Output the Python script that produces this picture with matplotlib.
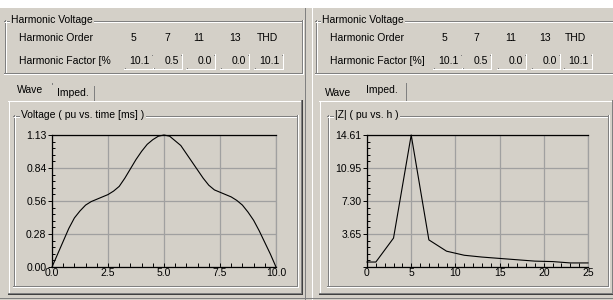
import numpy as np
import matplotlib.pyplot as plt

plt.rcParams['font.family'] = ['Liberation Sans', 'DejaVu Sans']

W, H = 613, 300
BG = '#d4d0c8'
SHADOW = '#808080'
HILITE = '#ffffff'
GRID = '#a0a0a0'
FS = 7.5

# harmonic table
harm_orders = ['5', '7', '11', '13', 'THD']
harm_factor = ['10.1', '0.5', '0.0', '0.0', '10.1']

# wave tab: voltage vs time
time_ms = [0.0, 0.25, 0.5, 0.75, 1.0, 1.25, 1.5, 1.75, 2.0, 2.25,
           2.5, 2.75, 3.0, 3.25, 3.5, 3.75, 4.0, 4.25, 4.5, 4.75,
           5.0, 5.25, 5.5, 5.75, 6.0, 6.25, 6.5, 6.75, 7.0, 7.25,
           7.5, 7.75, 8.0, 8.25, 8.5, 8.75, 9.0, 9.25, 9.5, 9.75, 10.0]
volt_pu = [0.00, 0.11, 0.22, 0.33, 0.42, 0.48, 0.53, 0.56, 0.58, 0.60,
           0.62, 0.65, 0.69, 0.76, 0.84, 0.92, 0.99, 1.05, 1.09, 1.12,
           1.13, 1.12, 1.08, 1.04, 0.97, 0.90, 0.83, 0.76, 0.70, 0.66,
           0.64, 0.62, 0.60, 0.57, 0.53, 0.47, 0.40, 0.31, 0.21, 0.11, 0.00]
volt_yticklabels = ['0.00', '0.28', '0.56', '0.84', '1.13']
volt_xticklabels = ['0.0', '2.5', '5.0', '7.5', '10.0']

# imped tab: |Z| vs harmonic order
harm_h = [0, 1, 3, 5, 7, 9, 11, 13, 15, 17, 19, 21, 23, 25]
imped_pu = [0.55, 0.55, 3.2, 14.61, 3.0, 1.75, 1.3, 1.1, 0.95, 0.8, 0.65, 0.6, 0.45, 0.45]
imped_yticklabels = ['', '3.65', '7.30', '10.95', '14.61']
imped_xticklabels = ['0', '5', '10', '15', '20', '25']

fig = plt.figure(figsize=(W / 100, H / 100), dpi=100, facecolor=BG)
bg = fig.add_axes([0, 0, 1, 1])
bg.set_xlim(0, W)
bg.set_ylim(H, 0)
bg.axis('off')


def hl(x0, x1, y, c):
    bg.plot([x0, x1 + 1], [y + .5, y + .5], color=c, lw=0.72,
            antialiased=False, solid_capstyle='butt', zorder=2)


def vl(x, y0, y1, c):
    bg.plot([x + .5, x + .5], [y0, y1 + 1], color=c, lw=0.72,
            antialiased=False, solid_capstyle='butt', zorder=2)


def etched(x0, y0, x1, y1):
    hl(x0, x1, y0, SHADOW); vl(x0, y0, y1, SHADOW)
    hl(x0, x1, y1, SHADOW); vl(x1, y0, y1, SHADOW)
    hl(x0 + 1, x1 - 1, y0 + 1, HILITE); vl(x0 + 1, y0 + 1, y1 - 1, HILITE)
    hl(x0, x1 + 1, y1 + 1, HILITE); vl(x1 + 1, y0, y1 + 1, HILITE)


def sunken(x0, y0, x1, y1):
    hl(x0, x1, y0, SHADOW); vl(x0, y0, y1, SHADOW)
    hl(x0, x1, y1, HILITE); vl(x1, y0, y1, HILITE)


def label(x, y, s, ha='left', cover=False):
    kw = {}
    if cover:
        kw['bbox'] = dict(facecolor=BG, edgecolor='none', pad=1)
    bg.text(x, y, s, ha=ha, va='center', fontsize=FS, color='black', zorder=5, **kw)


# white strip on top, half separator, window bottom
bg.fill_between([0, W], 0, 8, color='white', lw=0, zorder=1)
vl(304, 8, 299, SHADOW)
vl(311, 8, 299, HILITE)
hl(0, W - 1, 297, SHADOW)


def draw_half(ox, factor_text, head_x, box_x, active, tab_boxes, title, gb_x):
    # harmonic voltage group
    etched(ox + 4, 20, ox + 301, 72)
    label(ox + 11, 20, 'Harmonic Voltage', cover=True)
    label(ox + 19, 38, 'Harmonic Order')
    label(ox + 19, 61, factor_text)
    for hx, bx, name, val in zip(head_x, box_x, harm_orders, harm_factor):
        label(hx, 38, name, ha='center')
        bg.fill_between([bx, bx + 28], 54, 68, color=BG, lw=0, zorder=3)
        sunken(bx, 54, bx + 28, 68)
        label(bx + 26, 61, val, ha='right')

    # tab page
    x0, x1 = ox + 8, ox + 300
    hl(x0, x1, 100, HILITE)
    vl(x0, 100, 292, HILITE)
    hl(x0, x1, 292, SHADOW)
    vl(x1, 100, 292, SHADOW)
    hl(x0, x1 + 1, 293, '#404040')
    vl(x1 + 1, 100, 293, '#404040')
    for i, (tx0, tx1, name) in enumerate(tab_boxes):
        top = 82 if i == active else 85
        bg.fill_between([tx0, tx1 + 1], top, 101, color=BG, lw=0, zorder=3)
        hl(tx0 + 1, tx1 - 1, top, HILITE)
        vl(tx0, top + 1, 100, HILITE)
        vl(tx1, top + 1, 100 if i != active else 99, SHADOW)
        if i != active:
            hl(tx0, tx1, 100, HILITE)
        bg.text((tx0 + tx1 + 1) / 2, top + 8, name, ha='center', va='center',
                fontsize=FS, color='black', zorder=5)

    # chart group box
    etched(gb_x, 115, ox + 296, 285)
    label(gb_x + 8, 115, title, cover=True)


draw_half(0, 'Harmonic Factor [%', [133, 167, 199, 235, 267],
          [124, 153, 186, 220, 254], 0,
          [(8, 51, 'Wave'), (52, 93, 'Imped.')],
          'Voltage ( pu vs. time [ms] )', 13)
draw_half(311, 'Harmonic Factor [%]', [444, 476, 511, 545, 575],
          [433, 462, 497, 531, 563], 1,
          [(319, 357, 'Wave'), (358, 405, 'Imped.')],
          '|Z| ( pu vs. h )', 327)


def chart(rect, x, y, xmax, xstep, ymax, xlabels, ylabels):
    ax = fig.add_axes([rect[0] / W, 1 - rect[3] / H,
                       (rect[2] - rect[0]) / W, (rect[3] - rect[1]) / H])
    ax.set_facecolor(BG)
    ax.plot(x, y, color='black', lw=0.8, clip_on=False, zorder=3)
    ax.set_xlim(0, xmax)
    ax.set_ylim(0, ymax)
    ax.set_xticks(np.arange(0, xmax + 1e-9, xstep))
    ax.set_xticks(np.arange(0, xmax + 1e-9, xstep / 5), minor=True)
    ax.set_xticklabels(xlabels)
    ax.set_yticks(np.linspace(0, ymax, 5))
    ax.set_yticks(np.linspace(0, ymax, 21), minor=True)
    ax.set_yticklabels(ylabels)
    ax.grid(True, which='major', color=GRID, lw=0.9)
    for s in ['top', 'left', 'bottom']:
        ax.spines[s].set_color('black')
        ax.spines[s].set_linewidth(0.9)
    ax.spines['right'].set_color(GRID)
    ax.spines['right'].set_linewidth(0.9)
    ax.tick_params(axis='x', which='both', direction='in', length=3, width=0.7,
                   pad=1, labelsize=FS, colors='black')
    ax.tick_params(axis='y', which='major', direction='out', length=3, width=0.7,
                   pad=1, labelsize=FS, colors='black')
    ax.tick_params(axis='y', which='minor', direction='in', length=2, width=0.7)
    return ax


chart((52, 135, 276, 267), time_ms, volt_pu, 10, 2.5, 1.13,
      volt_xticklabels, volt_yticklabels)
chart((367, 135, 588, 267), harm_h, imped_pu, 25, 5, 14.61,
      imped_xticklabels, imped_yticklabels)

plt.savefig('out.png', dpi=100, facecolor=BG)
